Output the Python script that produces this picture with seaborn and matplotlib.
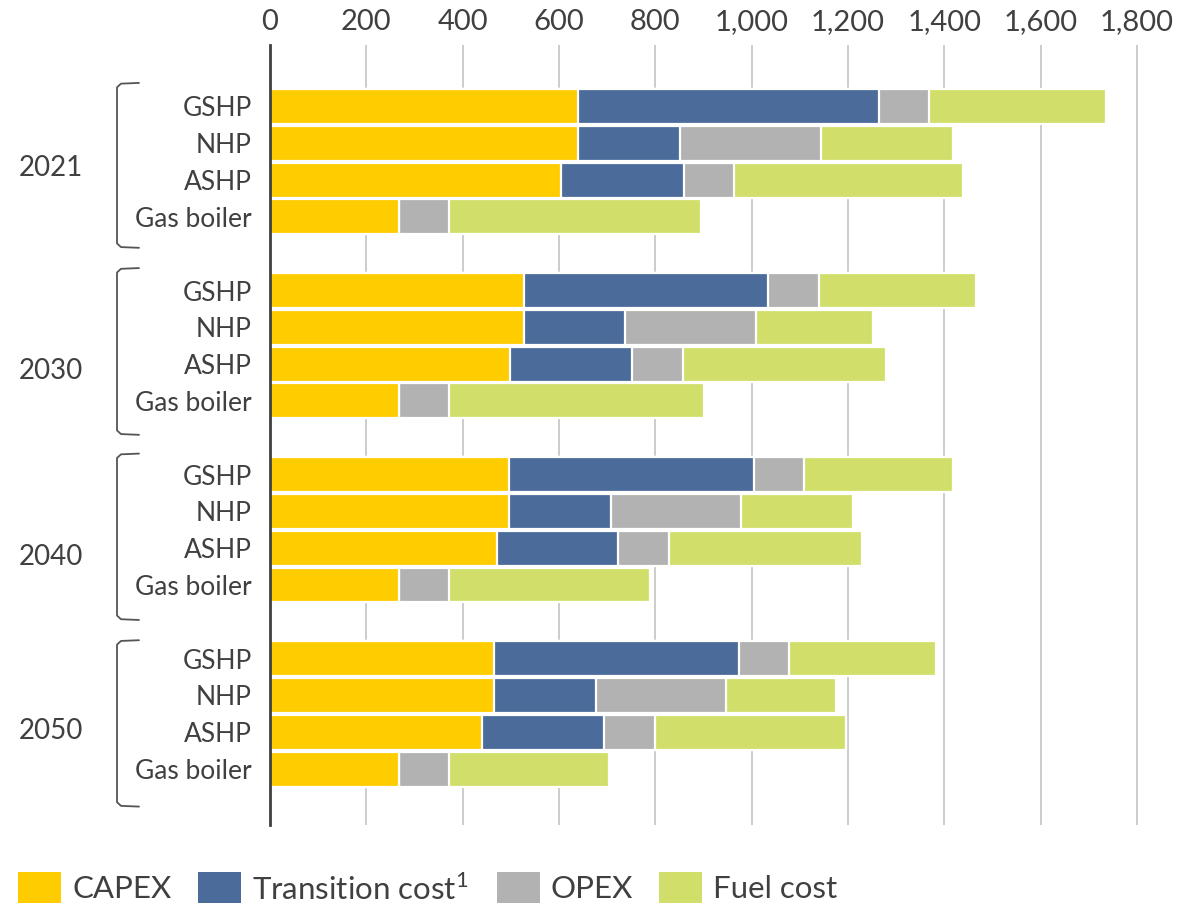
import numpy as np
import pandas as pd
import seaborn as sns
import matplotlib.pyplot as plt
from matplotlib.patches import Rectangle
from matplotlib.lines import Line2D
import matplotlib.transforms as mtransforms

# Cost components per technology and year
years = ["2021", "2030", "2040", "2050"]
technologies = ["GSHP", "NHP", "ASHP", "Gas boiler"]
capex = [640, 640, 605, 267,
         527, 527, 499, 267,
         496, 496, 471, 267,
         466, 466, 441, 267]
transition = [625, 211, 254, 0,
              507, 210, 253, 0,
              508, 211, 252, 0,
              507, 210, 253, 0]
opex = [104, 293, 104, 105,
        106, 273, 105, 105,
        105, 271, 106, 105,
        105, 270, 106, 105]
fuel = [366, 274, 475, 522,
        326, 241, 422, 530,
        309, 233, 401, 417,
        304, 230, 396, 332]
x_ticks = [0, 200, 400, 600, 800, 1000, 1200, 1400, 1600, 1800]

series_names = ["CAPEX", "Transition cost$^\\mathrm{1}$", "OPEX", "Fuel cost"]
colors = ["#FFCC00", "#4B6C9A", "#B2B2B2", "#D1DF6A"]

sns.set_theme(style="white")
plt.rcParams["font.family"] = ["Lato", "DejaVu Sans"]
plt.rcParams["mathtext.fontset"] = "custom"
plt.rcParams["mathtext.rm"] = "Lato"
TEXT = "#404040"

W, H = 1181, 907
fig = plt.figure(figsize=(W / 100, H / 100), dpi=100)
x_max = 1810
ax_left, ax_right = 270 / W, (270 + x_max * (1137 - 270) / 1800) / W
ax_top, ax_bottom = 1 - 45 / H, 1 - 825 / H
ax = fig.add_axes([ax_left, ax_bottom, ax_right - ax_left, ax_top - ax_bottom])

# one empty slot between year groups
pos = [g * 5 + b for g in range(len(years)) for b in range(len(technologies))]
df = pd.DataFrame({
    "pos": pos,
    "capex": capex,
    "transition": transition,
    "opex": opex,
    "fuel": fuel,
})
df["end_capex"] = df["capex"]
df["end_transition"] = df["end_capex"] + df["transition"]
df["end_opex"] = df["end_transition"] + df["opex"]
df["end_fuel"] = df["end_opex"] + df["fuel"]

# stack by overlaying cumulative totals, longest first
ends = ["end_capex", "end_transition", "end_opex", "end_fuel"]
for col, color in reversed(list(zip(ends, colors))):
    sns.barplot(data=df, x=col, y="pos", orient="h", native_scale=True,
                color=color, saturation=1, width=0.95, errorbar=None,
                edgecolor="white", linewidth=1.6, ax=ax)

ax.set_xlim(0, x_max)
ax.set_ylim(19.52, -1.67)
ax.set_xlabel("")
ax.set_ylabel("")

ax.xaxis.tick_top()
ax.set_xticks(x_ticks)
ax.set_xticklabels([f"{v:,}" for v in x_ticks], fontsize=21, color=TEXT)
ax.tick_params(axis="x", length=0, pad=7)
ax.set_yticks(pos)
ax.set_yticklabels(technologies * len(years), fontsize=19, color=TEXT)
ax.tick_params(axis="y", length=0, pad=13)

ax.xaxis.grid(True, color="#C8C8C8", linewidth=1.3)
ax.yaxis.grid(False)
ax.set_axisbelow(True)
for side in ["top", "right", "bottom"]:
    ax.spines[side].set_visible(False)
ax.spines["left"].set_color(TEXT)
ax.spines["left"].set_linewidth(2)

# year brackets and labels (x in figure pixels, y in bar slots)
trans = mtransforms.blended_transform_factory(
    mtransforms.Affine2D().scale(1 / W, 1) + fig.transFigure, ax.transData)
bracket_top = [-0.64, -0.61, -0.57, -0.50]
bracket_bottom = [3.84, 3.92, 3.95, 4.02]
label_offset = [1.67, 2.19, 2.25, 1.97]
for g, year in enumerate(years):
    y0 = g * 5 + bracket_top[g]
    y1 = g * 5 + bracket_bottom[g]
    ax.add_line(Line2D([139, 121, 117, 117, 121, 139],
                       [y0, y0 + 0.02, y0 + 0.12, y1 - 0.12, y1 - 0.02, y1],
                       transform=trans, color="#555555", linewidth=1.3,
                       clip_on=False))
    ax.text(51, g * 5 + label_offset[g], year, transform=trans,
            ha="center", va="center", fontsize=20, color=TEXT)

# legend row
legend_x = [18, 198, 497, 659]
for x0, name, color in zip(legend_x, series_names, colors):
    fig.patches.append(Rectangle((x0 / W, 1 - 903 / H), 43 / W, 31 / H,
                                 transform=fig.transFigure, facecolor=color,
                                 edgecolor="none"))
    fig.text((x0 + 54) / W, 1 - 889 / H, name, ha="left", va="center",
             fontsize=22.5, color=TEXT)

fig.savefig("out.png", dpi=100, facecolor="white")
